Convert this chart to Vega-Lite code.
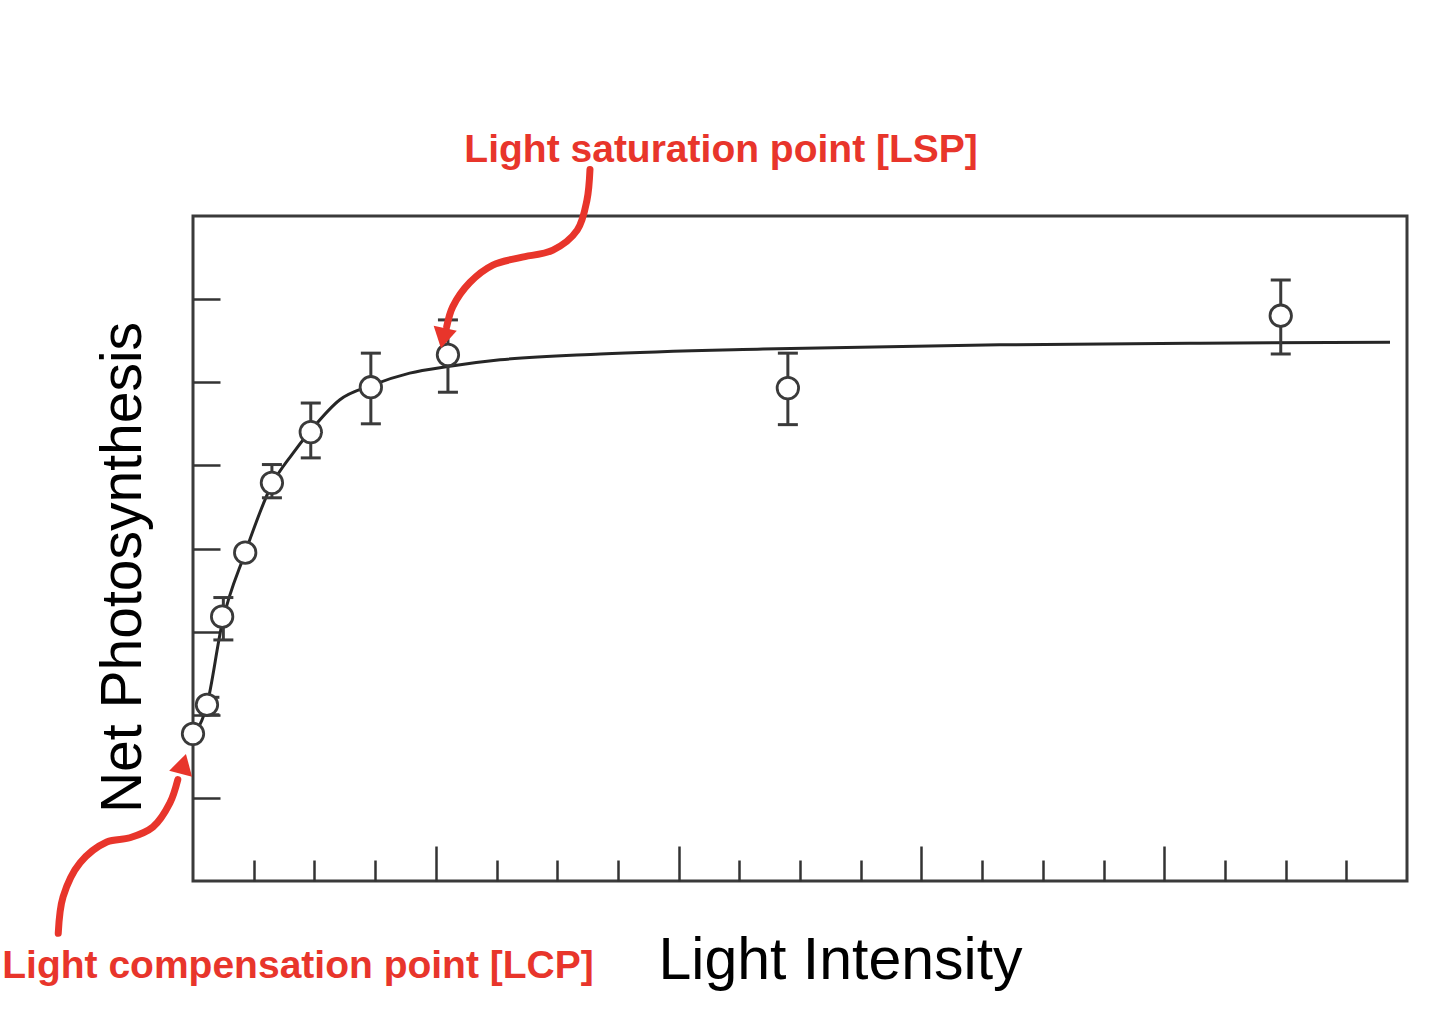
{
  "$schema": "https://vega.github.io/schema/vega-lite/v6.json",
  "width": 1214,
  "height": 665,
  "autosize": {"type": "none"},
  "padding": {"left": 193, "top": 216, "right": 33, "bottom": 155},
  "background": "white",
  "datasets": {
    "curve": [
      {"x": 0, "y": 1.74}, {"x": 0.23, "y": 2.12}, {"x": 0.48, "y": 3.1}, {"x": 0.86, "y": 3.95},
      {"x": 1.3, "y": 4.77}, {"x": 1.63, "y": 5.13}, {"x": 1.94, "y": 5.42}, {"x": 2.42, "y": 5.79},
      {"x": 2.93, "y": 5.96}, {"x": 3.57, "y": 6.11}, {"x": 4.2, "y": 6.19}, {"x": 5.06, "y": 6.27},
      {"x": 6.71, "y": 6.34}, {"x": 9.39, "y": 6.4}, {"x": 13.29, "y": 6.45}, {"x": 16.59, "y": 6.47},
      {"x": 19.72, "y": 6.48}
    ],
    "points": [
      {"x": 0, "y": 1.77}, {"x": 0.23, "y": 2.12}, {"x": 0.48, "y": 3.18}, {"x": 0.86, "y": 3.95},
      {"x": 1.3, "y": 4.79}, {"x": 1.94, "y": 5.4}, {"x": 2.93, "y": 5.94}, {"x": 4.2, "y": 6.33},
      {"x": 9.8, "y": 5.93}, {"x": 17.92, "y": 6.8}
    ],
    "errors": [
      {"x": 0.27, "lo": 2.0, "hi": 2.21}, {"x": 0.5, "lo": 2.9, "hi": 3.41}, {"x": 1.3, "lo": 4.61, "hi": 5.01},
      {"x": 1.94, "lo": 5.09, "hi": 5.75}, {"x": 2.93, "lo": 5.5, "hi": 6.35}, {"x": 4.2, "lo": 5.88, "hi": 6.75},
      {"x": 9.8, "lo": 5.49, "hi": 6.35}, {"x": 17.92, "lo": 6.34, "hi": 7.23}
    ],
    "arrows": [
      {"arrow": "LSP", "i": 1, "x": 6.54, "y": 8.56}, {"arrow": "LSP", "i": 2, "x": 6.49, "y": 8.19},
      {"arrow": "LSP", "i": 3, "x": 6.33, "y": 7.83}, {"arrow": "LSP", "i": 4, "x": 5.93, "y": 7.59},
      {"arrow": "LSP", "i": 5, "x": 5.39, "y": 7.5}, {"arrow": "LSP", "i": 6, "x": 4.94, "y": 7.41},
      {"arrow": "LSP", "i": 7, "x": 4.56, "y": 7.2}, {"arrow": "LSP", "i": 8, "x": 4.28, "y": 6.91},
      {"arrow": "LSP", "i": 9, "x": 4.18, "y": 6.67},
      {"arrow": "LCP", "i": 1, "x": -2.22, "y": -0.63}, {"arrow": "LCP", "i": 2, "x": -2.14, "y": -0.19},
      {"arrow": "LCP", "i": 3, "x": -1.86, "y": 0.22}, {"arrow": "LCP", "i": 4, "x": -1.42, "y": 0.47},
      {"arrow": "LCP", "i": 5, "x": -1.04, "y": 0.52}, {"arrow": "LCP", "i": 6, "x": -0.66, "y": 0.65},
      {"arrow": "LCP", "i": 7, "x": -0.38, "y": 0.94}, {"arrow": "LCP", "i": 8, "x": -0.25, "y": 1.22}
    ],
    "headLSP": [{"x": 4.12, "y": 6.53}],
    "headLCP": [{"x": -0.16, "y": 1.41}],
    "labels": [
      {"x": 8.7, "y": 8.65, "text": "Light saturation point [LSP]"},
      {"x": 1.73, "y": -1.17, "text": "Light compensation point [LCP]"}
    ]
  },
  "encoding": {
    "x": {
      "field": "x", "type": "quantitative",
      "scale": {"domain": [0, 20], "nice": false, "zero": false},
      "axis": {
        "title": "Light Intensity",
        "values": [1, 2, 3, 4, 5, 6, 7, 8, 9, 10, 11, 12, 13, 14, 15, 16, 17, 18, 19],
        "labels": false, "domain": false, "grid": false,
        "tickColor": "#333333", "tickWidth": 2.5,
        "tickSize": {"condition": {"test": "datum.value % 4 === 0", "value": -35}, "value": -21},
        "titleFont": "Liberation Sans", "titleFontSize": 59, "titleFontWeight": "normal", "titleColor": "#000000",
        "titleX": 647, "titleY": 97, "titleBaseline": "alphabetic", "titleAlign": "center"
      }
    },
    "y": {
      "field": "y", "type": "quantitative",
      "scale": {"domain": [0, 8], "nice": false, "zero": false},
      "axis": {
        "title": "Net Photosynthesis",
        "values": [1, 2, 3, 4, 5, 6, 7],
        "labels": false, "domain": false, "grid": false,
        "tickColor": "#333333", "tickWidth": 2.5, "tickSize": -27,
        "titleFont": "Liberation Sans", "titleFontSize": 57, "titleFontWeight": "normal", "titleColor": "#000000",
        "titleAngle": -90, "titleX": -53, "titleY": 351, "titleBaseline": "alphabetic", "titleAlign": "center"
      }
    }
  },
  "layer": [
    {
      "data": {"name": "curve"},
      "mark": {"type": "line", "interpolate": "monotone", "stroke": "#262626", "strokeWidth": 3}
    },
    {
      "data": {"name": "errors"},
      "mark": {"type": "rule", "stroke": "#3a3a3a", "strokeWidth": 3},
      "encoding": {
        "y": {"field": "lo", "type": "quantitative", "title": "Net Photosynthesis"},
        "y2": {"field": "hi"}
      }
    },
    {
      "data": {"name": "errors"},
      "mark": {"type": "tick", "orient": "horizontal", "size": 20, "thickness": 3, "color": "#3a3a3a", "opacity": 1},
      "encoding": {"y": {"field": "lo", "type": "quantitative", "title": "Net Photosynthesis"}}
    },
    {
      "data": {"name": "errors"},
      "mark": {"type": "tick", "orient": "horizontal", "size": 20, "thickness": 3, "color": "#3a3a3a", "opacity": 1},
      "encoding": {"y": {"field": "hi", "type": "quantitative", "title": "Net Photosynthesis"}}
    },
    {
      "data": {"name": "points"},
      "mark": {"type": "circle", "size": 460, "fill": "white", "stroke": "#3a3a3a", "strokeWidth": 2.8, "opacity": 1, "fillOpacity": 1}
    },
    {
      "data": {"name": "arrows"},
      "mark": {"type": "line", "stroke": "#e8352b", "strokeWidth": 7, "strokeCap": "round", "interpolate": "catmull-rom"},
      "encoding": {
        "detail": {"field": "arrow"},
        "order": {"field": "i", "type": "quantitative"}
      }
    },
    {
      "data": {"name": "headLSP"},
      "mark": {"type": "point", "shape": "triangle-down", "filled": true, "color": "#e8352b", "size": 560, "angle": 12, "opacity": 1}
    },
    {
      "data": {"name": "headLCP"},
      "mark": {"type": "point", "shape": "triangle-up", "filled": true, "color": "#e8352b", "size": 560, "angle": 15, "opacity": 1}
    },
    {
      "data": {"name": "labels"},
      "mark": {"type": "text", "font": "Liberation Sans", "fontWeight": "bold", "fontSize": 39, "color": "#e8352b", "align": "center", "baseline": "alphabetic"},
      "encoding": {"text": {"field": "text"}}
    }
  ],
  "config": {
    "view": {"stroke": "#3a3a3a", "strokeWidth": 3}
  }
}
